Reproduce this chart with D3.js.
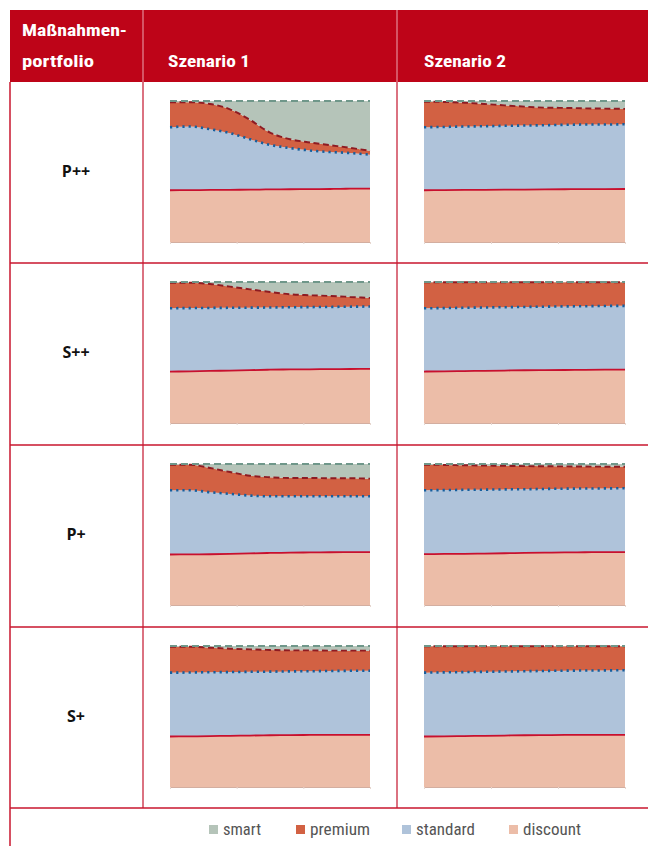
<!DOCTYPE html>
<html><head><meta charset="utf-8">
<script src="https://cdn.jsdelivr.net/npm/d3@7"></script>
<style>body{margin:0;background:#fff}</style>
</head><body><svg id="c" width="648" height="846"></svg>
<script>
// ---------- DATA ----------
const years = [2020,2023,2026,2029,2032,2035,2038,2041,2044,2047,2050];
const seriesKeys = ["discount","standard","premium","smart"];
const legendKeys = ["smart","premium","standard","discount"];
const portfolios = ["P++","S++","P+","S+"];
const scenarios = ["Szenario 1","Szenario 2"];

// P++ / Szenario 1
const ppS1_discount = [36.7,36.8,36.9,37.0,37.1,37.3,37.4,37.5,37.6,37.8,37.9];
const ppS1_standard = [44.7,45.1,43.1,40.2,35.8,31.6,29.2,27.4,26.2,25.3,24.0];
const ppS1_premium  = [17.7,17.2,17.9,16.9,13.7,8.7,6.3,5.7,4.9,3.7,2.8];
const ppS1_smart    = [0.9,0.9,2.1,5.9,13.4,22.4,27.1,29.4,31.3,33.2,35.3];
// P++ / Szenario 2
const ppS2_discount = [36.7,36.8,36.9,37.0,37.1,37.2,37.3,37.4,37.5,37.5,37.6];
const ppS2_standard = [44.7,44.8,45.0,45.1,45.3,45.4,45.5,45.7,45.8,45.8,45.9];
const ppS2_premium  = [18.1,17.7,16.9,15.8,14.5,13.4,12.5,12.0,11.5,11.3,10.9];
const ppS2_smart    = [0.5,0.7,1.2,2.1,3.1,4.0,4.7,4.9,5.2,5.4,5.6];
// S++ / Szenario 1
const ssS1_discount = [36.5,36.6,36.9,37.2,37.5,37.8,38.0,38.1,38.2,38.3,38.4];
const ssS1_standard = [44.9,44.9,44.7,44.5,44.3,44.1,44.1,44.1,44.1,44.2,44.2];
const ssS1_premium  = [18.1,18.0,17.0,15.0,13.0,11.0,9.2,8.4,7.8,6.9,6.1];
const ssS1_smart    = [0.5,0.5,1.4,3.3,5.2,7.1,8.7,9.4,9.9,10.6,11.3];
// S++ / Szenario 2
const ssS2_discount = [36.5,36.6,36.8,37.0,37.2,37.4,37.5,37.6,37.7,37.8,37.9];
const ssS2_standard = [44.9,44.9,44.9,44.9,44.9,44.9,45.0,45.1,45.1,45.2,45.2];
const ssS2_premium  = [18.4,18.3,18.1,17.9,17.7,17.5,17.3,17.1,17.0,16.8,16.7];
const ssS2_smart    = [0.2,0.2,0.2,0.2,0.2,0.2,0.2,0.2,0.2,0.2,0.2];
// P+ / Szenario 1
const pS1_discount = [35.8,35.9,36.0,36.3,36.6,36.9,37.1,37.3,37.4,37.5,37.5];
const pS1_standard = [45.6,45.5,44.0,42.5,41.0,40.2,40.0,39.8,39.7,39.6,39.6];
const pS1_premium  = [18.1,18.1,17.2,15.5,14.1,13.5,13.0,13.0,12.8,12.8,12.5];
const pS1_smart    = [0.5,0.5,2.8,5.7,8.3,9.4,9.9,9.9,10.1,10.1,10.4];
// P+ / Szenario 2
const pS2_discount = [36.1,36.2,36.3,36.5,36.7,36.9,37.1,37.3,37.4,37.5,37.5];
const pS2_standard = [45.3,45.3,45.4,45.3,45.3,45.2,45.2,45.2,45.2,45.2,45.3];
const pS2_premium  = [18.1,17.8,17.4,17.1,16.7,16.4,16.1,15.8,15.6,15.4,15.3];
const pS2_smart    = [0.5,0.7,0.9,1.1,1.3,1.5,1.6,1.7,1.8,1.9,1.9];
// S+ / Szenario 1
const sS1_discount = [35.8,35.9,36.1,36.3,36.5,36.7,36.8,36.9,36.9,37.0,37.0];
const sS1_standard = [45.3,45.3,45.3,45.2,45.2,45.1,45.2,45.2,45.4,45.4,45.5];
const sS1_premium  = [18.4,18.3,17.4,16.6,15.9,15.4,14.9,14.8,14.4,14.3,14.2];
const sS1_smart    = [0.5,0.5,1.2,1.9,2.4,2.8,3.1,3.1,3.3,3.3,3.3];
// S+ / Szenario 2
const sS2_discount = [35.8,35.9,36.1,36.3,36.5,36.7,36.8,36.9,36.9,37.0,37.0];
const sS2_standard = [45.3,45.4,45.4,45.4,45.4,45.4,45.5,45.6,45.7,45.7,45.8];
const sS2_premium  = [18.7,18.5,18.3,18.1,17.9,17.7,17.5,17.3,17.2,17.1,17.0];
const sS2_smart    = [0.2,0.2,0.2,0.2,0.2,0.2,0.2,0.2,0.2,0.2,0.2];

const panelSeries = [
  [[ppS1_discount,ppS1_standard,ppS1_premium,ppS1_smart],[ppS2_discount,ppS2_standard,ppS2_premium,ppS2_smart]],
  [[ssS1_discount,ssS1_standard,ssS1_premium,ssS1_smart],[ssS2_discount,ssS2_standard,ssS2_premium,ssS2_smart]],
  [[pS1_discount,pS1_standard,pS1_premium,pS1_smart],[pS2_discount,pS2_standard,pS2_premium,pS2_smart]],
  [[sS1_discount,sS1_standard,sS1_premium,sS1_smart],[sS2_discount,sS2_standard,sS2_premium,sS2_smart]]
];

// ---------- STYLE ----------
const fills = {smart:"#b5c4b9", premium:"#d26143", standard:"#afc3da", discount:"#ecbda8"};
const lineStyle = {
  discount:{stroke:"#c8102e", w:1.8, dash:null},
  standard:{stroke:"#155f9e", w:2.6, dash:"2.2,4"},
  premium:{stroke:"#8e1b22", w:1.9, dash:"6,3.5"},
  smart:{stroke:"#6f978a", w:1.8, dash:"7,4"}
};
const red = "#be0418";
const gridRed = "#c8162e";
const innerRed = "#cf4357";
const condensed = "'Liberation Sans Narrow','Roboto Condensed','Roboto',sans-serif";

const svg = d3.select("#c");

// header
svg.append("rect").attr("x",10).attr("y",10).attr("width",638).attr("height",72).attr("fill",red);
[143,397].forEach(x=>svg.append("line").attr("x1",x).attr("x2",x).attr("y1",10).attr("y2",82)
  .attr("stroke","#e58d99").attr("stroke-width",1.2));

function htext(t,x,y,w){
  svg.append("text").attr("x",x).attr("y",y).text(t)
    .attr("fill","#fff").attr("font-family",condensed).attr("font-weight","bold")
    .attr("font-size",17).attr("textLength",w).attr("lengthAdjust","spacingAndGlyphs");
}
htext("Maßnahmen-",22,36,105);
htext("portfolio",22,67,72);
htext(scenarios[0],168,67,82);
htext(scenarios[1],424,67,82);

// row geometry
const rowTops = [82,263,445,627];
const rowBottom = 808;
const colX = [[170,370],[424,625]];

// table lines
svg.append("line").attr("x1",10).attr("x2",10).attr("y1",82).attr("y2",846).attr("stroke",gridRed).attr("stroke-width",1.5);
[143,397].forEach(x=>svg.append("line").attr("x1",x).attr("x2",x).attr("y1",82).attr("y2",rowBottom)
  .attr("stroke",innerRed).attr("stroke-width",1.5));
rowTops.slice(1).concat([rowBottom]).forEach(y=>svg.append("line").attr("x1",10).attr("x2",648)
  .attr("y1",y).attr("y2",y).attr("stroke",gridRed).attr("stroke-width",1.5));

// row labels
portfolios.forEach((p,i)=>{
  svg.append("text").attr("x",76).attr("y",rowTops[i]+95).attr("text-anchor","middle")
    .attr("font-family","'Open Sans',sans-serif").attr("font-weight","bold").attr("font-size",16)
    .attr("fill","#111").text(p);
});

// panels
const stack = d3.stack().keys(seriesKeys);
portfolios.forEach((p,ri)=>{
  scenarios.forEach((s,ci)=>{
    const arrs = panelSeries[ri][ci];
    const rows = years.map((y,k)=>{
      const o = {year:y};
      seriesKeys.forEach((key,j)=>o[key]=arrs[j][k]);
      return o;
    });
    const top = rowTops[ri]+19, h = 141;
    const x = d3.scaleLinear().domain(d3.extent(years)).range(colX[ci]);
    const y = d3.scaleLinear().domain([0,100]).range([top+h, top]);
    const layers = stack(rows);
    const g = svg.append("g");
    const area = d3.area().x(d=>x(d.data.year)).y0(d=>y(d[0])).y1(d=>y(d[1])).curve(d3.curveMonotoneX);
    g.selectAll("path.a").data(layers).join("path").attr("class","a")
      .attr("d",area).attr("fill",d=>fills[d.key]);
    const ax = g.append("g").attr("transform",`translate(0,${top+h})`)
      .call(d3.axisBottom(x).tickValues([2020,2030,2040,2050]).tickFormat("").tickSize(2).tickSizeOuter(0));
    ax.select(".domain").attr("stroke","#d3aea0");
    ax.selectAll(".tick line").attr("stroke","#e6d6cf");
    const line = d3.line().x(d=>x(d.data.year)).y(d=>y(d[1])).curve(d3.curveMonotoneX);
    g.selectAll("path.l").data(layers).join("path").attr("class","l")
      .attr("d",line).attr("fill","none")
      .attr("stroke",d=>lineStyle[d.key].stroke)
      .attr("stroke-width",d=>lineStyle[d.key].w)
      .attr("stroke-dasharray",d=>lineStyle[d.key].dash);
  });
});

// legend
const legX = [209,296,402,509];
const legW = [38,60,59,58];
legendKeys.forEach((k,i)=>{
  svg.append("rect").attr("x",legX[i]).attr("y",825).attr("width",9).attr("height",9).attr("fill",fills[k]);
  svg.append("text").attr("x",legX[i]+14).attr("y",835).text(k)
    .attr("font-family",condensed).attr("font-size",16).attr("fill","#555")
    .attr("textLength",legW[i]).attr("lengthAdjust","spacingAndGlyphs");
});
</script>
</body></html>
